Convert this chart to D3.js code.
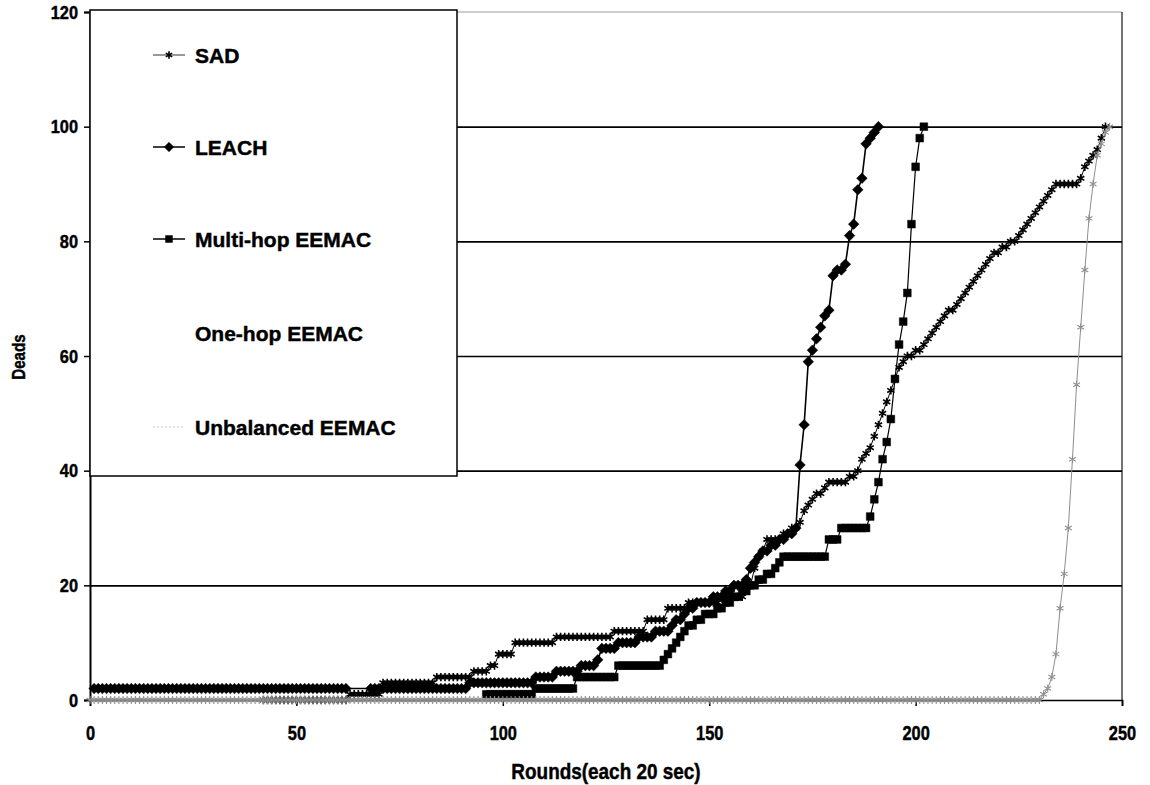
<!DOCTYPE html>
<html>
<head>
<meta charset="utf-8">
<script src="https://d3js.org/d3.v7.min.js"></script>
<style>
  body { margin: 0; background: #fff; }
  text { font-family: "Liberation Sans", Arial, sans-serif; font-weight: bold; fill: #000; stroke: #000; stroke-width: 0.45px; }
</style>
</head>
<body>
<svg id="chart" width="1150" height="785"></svg>
<script>
// ---- data: deaths per round, one value per round starting at the given round (null = no point) ----
const seriesNames = ["SAD", "LEACH", "Multi-hop EEMAC", "One-hop EEMAC", "Unbalanced EEMAC"];

const sadStart = 42;
const sadDeaths = [
  0,0,0,0,0,0,0,0,0,0, 0,0,0,0,0,0,0,0,0,0, 0,
  1,1,1,1,1,1,1,1,
  3,3,3,3,3,3,3,3,3,3,3,3,3,
  4,4,4,4,4,4,4,4,4,
  5,5,5,5, 6,6, 8,8,8,8,
  10,10,10,10,10,10,10,10,10,10,
  11,11,11,11,11,11,11,11,11,11,11,11,11,11,
  12,12,12,12,12,12,12,12,
  14,14,14,14,14, 16,16,16,16,16,
  17,17,17,17,17,17,17,17, 18,18,18,18,18,18, 20,20,
  23,25,26,28,28,28,28,29,29,30,
  30,31,33,34,35,36,36,37,38,38,
  38,38,38,39,39,40,42,43,44,46,
  48,50,52,54,56,58,59,60,60,61,
  61,62,63,64,65,66,67,68,68,69,
  70,71,72,73,74,75,76,77,78,78,
  79,79,80,80,81,82,83,84,85,86,
  87,88,89,90,90,90,90,90,90,91,
  93,94,95,96,98,100
];

const leachStart = 1;
const leachDeaths = [
  2,2,2,2,2,2,2,2,2,2, 2,2,2,2,2,2,2,2,2,2, 2,2,2,2,2,2,2,2,2,2,
  2,2,2,2,2,2,2,2,2,2, 2,2,2,2,2,2,2,2,2,2, 2,2,2,2,2,2,2,2,2,2, 2,2,
  null,null,null,null,null,
  2,2,2,2,2,2,2,2,2,2, 2,2,2,2,2,2,2,2,2,2, 2,2,2,2,
  3,3,3,3,3,3,3,3,3,3,3,3,3,3,3,3,
  4,4,4,4,4, 5,5,5,5,5,5, 6,6,6,6, 7, 9,9,9,9,
  10,10,10,10,10, 11,11,11,11, 12,12,12,12,
  13,14,14,15,16,16,17,17,17,17,
  18,18,18,19,19,20,20,20,21,23,
  24,25,26,26,27,27,28,28,29,29,
  30,41,48,59,61,63,65,67,68,74,
  75,75,76,81,83,89,91,97,98,99,
  100
];

const multiStart = 96;
const multiDeaths = [
  1,1,1,1,1,1,1,1,1,1,1,1,
  2,2,2,2,2,2,2,2,2,2,
  4,4,4,4,4,4,4,4,4,4,
  6,6,6,6,6,6,6,6,6,6,6,
  7,8,9,10,11,12,13,13,14,14,
  15,15,15,16,16,17,17,18,18,19,
  19,20,20,21,21,22,22,23,24,
  25,25,25,25,25,25,25,25,25,25,25,
  28,28,28,30,30,30,30,30,30,30,
  32,35,38,42,45,49,56,62,66,71,83,93,98,100
];

const oneHopStart = 0;
const oneHopDeaths = [];

const unbalancedStart = 0;
const unbalancedDeaths = [
  0,0,0,0,0,0,0,0,0,0, 0,0,0,0,0,0,0,0,0,0, 0,0,0,0,0,0,0,0,0,0,
  0,0,0,0,0,0,0,0,0,0, 0,0,0,0,0,0,0,0,0,0, 0,0,0,0,0,0,0,0,0,0,
  0,0,0,0,0,0,0,0,0,0, 0,0,0,0,0,0,0,0,0,0, 0,0,0,0,0,0,0,0,0,0,
  0,0,0,0,0,0,0,0,0,0, 0,0,0,0,0,0,0,0,0,0, 0,0,0,0,0,0,0,0,0,0,
  0,0,0,0,0,0,0,0,0,0, 0,0,0,0,0,0,0,0,0,0, 0,0,0,0,0,0,0,0,0,0,
  0,0,0,0,0,0,0,0,0,0, 0,0,0,0,0,0,0,0,0,0, 0,0,0,0,0,0,0,0,0,0,
  0,0,0,0,0,0,0,0,0,0, 0,0,0,0,0,0,0,0,0,0, 0,0,0,0,0,0,0,0,0,0,
  0,0,0,0,0,0,0,0,0,0, 0,0,0,0,0,0,0,0,0,0,
  0,1,2,4,8,16,22,30,42,55,65,75,84,90,95,97,99,100
];

const xTicks = [0, 50, 100, 150, 200, 250];
const yTicks = [0, 20, 40, 60, 80, 100, 120];
const gridValues = [20, 40, 60, 80, 100];

// ---- layout ----
let svg = d3.select("#chart");
let plotLeft = 90, plotRight = 1122, plotTop = 12, plotBottom = 700;

let x = d3.scaleLinear().domain([0, 250]).range([plotLeft, plotRight]);
let y = d3.scaleLinear().domain([0, 120]).range([plotBottom, plotTop]);

function condense(sel, k) {
  sel.each(function() {
    let len = this.getComputedTextLength();
    d3.select(this).attr("textLength", len * k).attr("lengthAdjust", "spacingAndGlyphs");
  });
}

function toPoints(start, values) {
  return values.map((v, i) => ({round: start + i, deaths: v})).filter(p => p.deaths !== null);
}

// plot frame
svg.append("line")
  .attr("x1", plotLeft).attr("x2", plotRight).attr("y1", plotTop).attr("y2", plotTop)
  .style("stroke", "#9a9a9a").style("stroke-width", 1);
svg.append("line")
  .attr("x1", plotRight).attr("x2", plotRight).attr("y1", plotTop).attr("y2", plotBottom)
  .style("stroke", "#444").style("stroke-width", 1.5);

// horizontal gridlines
svg.append("g")
  .attr("transform", "translate(" + plotLeft + ",0)")
  .call(d3.axisLeft(y).tickValues(gridValues).tickSize(-(plotRight - plotLeft)).tickFormat(""))
  .call(g => g.select(".domain").remove())
  .selectAll("line")
  .style("stroke", "#000").style("stroke-width", 1.6);

// y axis
let yAxis = svg.append("g")
  .attr("transform", "translate(" + plotLeft + ",0)")
  .call(d3.axisLeft(y).tickValues(yTicks).tickSize(6).tickPadding(6));
yAxis.select(".domain").style("stroke", "#000").style("stroke-width", 2);
yAxis.selectAll(".tick line").style("stroke", "#000").style("stroke-width", 1.5);
yAxis.selectAll("text")
  .style("font-size", "19px")
  .style("font-family", "'Liberation Sans', Arial, sans-serif")
  .style("font-weight", "bold")
  .call(condense, 0.86);

// x axis
let xAxis = svg.append("g")
  .attr("transform", "translate(0," + plotBottom + ")")
  .call(d3.axisBottom(x).tickValues(xTicks).tickSize(6).tickPadding(19));
xAxis.select(".domain").style("stroke", "#000").style("stroke-width", 1.6);
xAxis.selectAll(".tick line").style("stroke", "#000").style("stroke-width", 1.5);
xAxis.selectAll("text")
  .style("font-size", "21px")
  .style("font-family", "'Liberation Sans', Arial, sans-serif")
  .style("font-weight", "bold")
  .call(condense, 0.78);

// series
let series = [
  {name: seriesNames[0], pts: toPoints(sadStart, sadDeaths), color: "#000", lw: 1, symbol: d3.symbolAsterisk, size: 48, fill: false, rot: 0, sw: 1.6},
  {name: seriesNames[1], pts: toPoints(leachStart, leachDeaths), color: "#000", lw: 1.6, symbol: d3.symbolSquare, size: 56, fill: true, rot: 45, sw: 0.5},
  {name: seriesNames[2], pts: toPoints(multiStart, multiDeaths), color: "#000", lw: 1.2, symbol: d3.symbolSquare, size: 60, fill: true, rot: 0, sw: 0.5},
  {name: seriesNames[3], pts: toPoints(oneHopStart, oneHopDeaths), color: "#fff", lw: 1, symbol: null, size: 0, fill: false, rot: 0, sw: 0},
  {name: seriesNames[4], pts: toPoints(unbalancedStart, unbalancedDeaths), color: "#8e8e8e", lw: 1, symbol: d3.symbolAsterisk, size: 44, fill: false, rot: 0, sw: 1.1}
];

let line = d3.line().x(d => x(d.round)).y(d => y(d.deaths));

series.forEach(function(s) {
  let g = svg.append("g").attr("class", "series");
  g.append("path")
    .datum(s.pts)
    .attr("d", line)
    .style("fill", "none")
    .style("stroke", s.color)
    .style("stroke-width", s.lw);
  if (s.symbol) {
    g.selectAll("path.mark")
      .data(s.pts)
      .join("path")
      .attr("class", "mark")
      .attr("d", d3.symbol().type(s.symbol).size(s.size))
      .attr("transform", d => "translate(" + x(d.round) + "," + y(d.deaths) + ") rotate(" + s.rot + ")")
      .style("fill", s.fill ? s.color : "none")
      .style("stroke", s.color)
      .style("stroke-width", s.sw);
  }
});

// axis titles
svg.append("text")
  .attr("x", (plotLeft + plotRight) / 2)
  .attr("y", 779)
  .style("text-anchor", "middle")
  .style("font-size", "22px")
  .text("Rounds(each 20 sec)")
  .call(condense, 0.86);

svg.append("text")
  .attr("transform", "translate(25,357) rotate(-90)")
  .style("text-anchor", "middle")
  .style("font-size", "19px")
  .text("Deads")
  .call(condense, 0.8);

// legend
let legend = svg.append("g");
legend.append("rect")
  .attr("x", 90).attr("y", 10).attr("width", 367).attr("height", 466)
  .style("fill", "#fff").style("stroke", "#000").style("stroke-width", 1.5);

let legendY = [55, 147, 239, 333, 427];
series.forEach(function(s, i) {
  let ly = legendY[i];
  if (i === 4) {
    legend.append("line")
      .attr("x1", 153).attr("x2", 185).attr("y1", ly).attr("y2", ly)
      .style("stroke", "#c8c8c8").style("stroke-width", 1).style("stroke-dasharray", "2,2");
  } else if (s.symbol) {
    legend.append("line")
      .attr("x1", 153).attr("x2", 185).attr("y1", ly).attr("y2", ly)
      .style("stroke", i === 0 ? "#333" : "#000").style("stroke-width", i === 0 ? 1 : 1.5);
    legend.append("path")
      .attr("d", d3.symbol().type(s.symbol).size(s.size * 0.8))
      .attr("transform", "translate(169," + ly + ") rotate(" + s.rot + ")")
      .style("fill", s.fill ? "#000" : "none")
      .style("stroke", "#000")
      .style("stroke-width", s.sw);
  }
  legend.append("text")
    .attr("x", 195)
    .attr("y", ly)
    .attr("dy", "0.36em")
    .style("font-size", "21px")
    .text(s.name);
});
</script>
</body>
</html>
